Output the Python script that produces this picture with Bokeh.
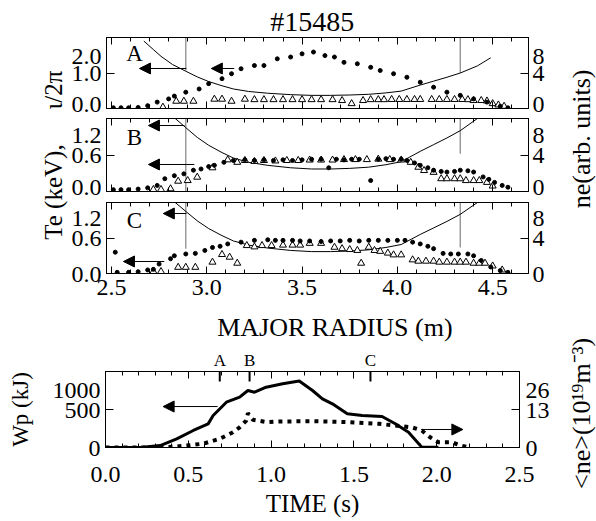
import math
from bokeh.plotting import figure
from bokeh.models import (Range1d, LinearAxis, FixedTicker, SingleIntervalTicker,
                          PrintfTickFormatter, Label, Arrow, NormalHead)
from bokeh.layouts import column, row
from bokeh.embed import file_html
from bokeh.resources import INLINE

# ---------------- data ----------------
iota_R = [2.67, 2.72, 2.76, 2.82, 2.89, 2.95, 3.01, 3.08, 3.14, 3.22, 3.32, 3.44,
          3.55, 3.65, 3.75, 3.85, 3.94, 4.02, 4.12, 4.19, 4.26, 4.33, 4.42, 4.49]
iota = [1.90, 1.66, 1.47, 1.24, 1.05, 0.89, 0.76, 0.64, 0.55, 0.48, 0.43, 0.39,
        0.37, 0.37, 0.38, 0.40, 0.44, 0.49, 0.66, 0.77, 0.88, 1.00, 1.20, 1.43]

A_te_R = [2.51, 2.55, 2.59, 2.64, 2.69, 2.74, 2.80, 2.83, 2.89, 2.96, 3.01, 3.08,
          3.13, 3.18, 3.25, 3.30, 3.37, 3.44, 3.50, 3.56, 3.62, 3.67, 3.72, 3.79,
          3.86, 3.91, 3.98, 4.05, 4.12, 4.19, 4.26, 4.33, 4.40, 4.47, 4.54, 4.58]
A_te = [0.02, 0.02, 0.02, 0.03, 0.08, 0.18, 0.27, 0.35, 0.46, 0.55, 0.70, 0.84,
        0.98, 1.12, 1.21, 1.21, 1.40, 1.45, 1.54, 1.59, 1.49, 1.45, 1.30, 1.26,
        1.16, 1.07, 0.98, 0.88, 0.74, 0.60, 0.46, 0.37, 0.27, 0.18, 0.06, 0.02]
A_ne_R = [2.77, 2.84, 2.88, 2.93, 3.04, 3.08, 3.13, 3.20, 3.25, 3.30, 3.35, 3.40,
          3.45, 3.50, 3.55, 3.60, 3.66, 3.71, 3.76, 3.82, 3.86, 3.90, 3.93, 3.97,
          4.01, 4.05, 4.09, 4.12, 4.18, 4.22, 4.26, 4.30, 4.34, 4.37, 4.40, 4.44,
          4.47, 4.50, 4.53, 4.56]
A_ne = [0.15, 0.82, 0.82, 0.82, 1.05, 1.05, 0.82, 1.05, 1.00, 1.00, 1.00, 1.00,
        1.00, 1.00, 1.00, 1.00, 1.00, 0.90, 0.55, 0.90, 1.00, 1.00, 1.00, 1.02,
        1.02, 1.02, 1.02, 1.02, 1.02, 1.02, 1.02, 1.02, 1.02, 1.00, 0.90, 0.90,
        0.85, 0.55, 0.40, 0.25]

B_te_R = [2.51, 2.55, 2.59, 2.64, 2.69, 2.74, 2.78, 2.83, 2.88, 2.93, 2.97, 3.01,
          3.04, 3.09, 3.14, 3.20, 3.25, 3.30, 3.35, 3.40, 3.45, 3.50, 3.55, 3.60,
          3.64, 3.68, 3.72, 3.76, 3.80, 3.86, 3.90, 3.94, 3.98, 4.02, 4.05, 4.09,
          4.12, 4.16, 4.19, 4.23, 4.26, 4.30, 4.33, 4.37, 4.40, 4.45, 4.48, 4.51,
          4.55, 4.58]
B_te = [0.03, 0.03, 0.03, 0.04, 0.06, 0.10, 0.21, 0.26, 0.29, 0.35, 0.37, 0.41,
        0.43, 0.48, 0.51, 0.52, 0.51, 0.52, 0.51, 0.52, 0.51, 0.52, 0.53, 0.53,
        0.39, 0.53, 0.52, 0.53, 0.53, 0.18, 0.53, 0.54, 0.53, 0.53, 0.51, 0.47,
        0.43, 0.39, 0.35, 0.33, 0.32, 0.33, 0.35, 0.34, 0.32, 0.24, 0.20, 0.15,
        0.10, 0.07]
B_ne_R = [2.72, 2.76, 2.81, 2.85, 2.90, 2.95, 3.03, 3.11, 3.16, 3.20, 3.25, 3.30,
          3.36, 3.42, 3.48, 3.54, 3.60, 3.66, 3.72, 3.78, 3.84, 3.90, 3.96, 4.02,
          4.07, 4.11, 4.14, 4.19, 4.23, 4.26, 4.30, 4.33, 4.36, 4.40, 4.43, 4.47,
          4.50]
B_ne = [0.22, 0.22, 0.30, 1.13, 1.20, 1.57, 2.60, 3.47, 3.20, 3.40, 3.30, 3.40,
        3.35, 3.40, 3.40, 3.45, 3.45, 3.45, 3.50, 3.50, 3.50, 3.55, 3.50, 3.45,
        3.20, 2.66, 2.30, 2.10, 1.40, 1.40, 1.40, 1.40, 1.20, 1.20, 1.20, 1.00,
        0.60]

C_te_R = [2.52, 2.53, 2.59, 2.64, 2.69, 2.72, 2.75, 2.81, 2.83, 2.89, 2.94, 2.99,
          3.03, 3.07, 3.11, 3.18, 3.25, 3.32, 3.36, 3.40, 3.45, 3.49, 3.54, 3.60,
          3.65, 3.70, 3.75, 3.80, 3.85, 3.90, 3.95, 4.00, 4.04, 4.08, 4.12, 4.16,
          4.19, 4.24, 4.28, 4.32, 4.37, 4.40, 4.44, 4.49, 4.54, 4.58]
C_te = [0.36, 0.02, 0.02, 0.03, 0.06, 0.07, 0.16, 0.25, 0.30, 0.33, 0.34, 0.39,
        0.44, 0.46, 0.50, 0.53, 0.56, 0.57, 0.56, 0.56, 0.56, 0.55, 0.55, 0.54,
        0.55, 0.55, 0.56, 0.55, 0.56, 0.56, 0.56, 0.56, 0.56, 0.53, 0.50, 0.46,
        0.42, 0.34, 0.33, 0.33, 0.33, 0.30, 0.22, 0.11, 0.05, 0.02]
C_ne_R = [2.72, 2.76, 2.85, 2.89, 2.94, 3.03, 3.08, 3.12, 3.16, 3.21, 3.25, 3.29,
          3.34, 3.40, 3.45, 3.49, 3.54, 3.60, 3.67, 3.71, 3.75, 3.79, 3.81, 3.85,
          3.88, 3.91, 3.95, 3.98, 4.02, 4.08, 4.11, 4.15, 4.19, 4.22, 4.26, 4.30,
          4.33, 4.36, 4.40, 4.43, 4.46, 4.50, 4.55]
C_ne = [0.22, 0.22, 0.70, 0.70, 0.70, 1.28, 2.14, 1.84, 1.16, 3.15, 3.00, 3.15,
        3.15, 3.20, 3.20, 3.20, 3.40, 3.40, 2.96, 2.80, 2.70, 2.60, 1.16, 2.96,
        2.60, 2.50, 2.30, 2.10, 2.10, 1.54, 1.39, 1.39, 1.39, 1.28, 1.28, 1.28,
        1.28, 1.28, 1.16, 1.16, 1.16, 0.85, 0.40]

mark_R = [2.89, 4.33]
A_mark_low = [1.07, 1.00]
B_mark_low = [0.00, 0.62]
C_mark_low = [0.42, 0.44]

t_wp = [0.00, 0.10, 0.21, 0.33, 0.43, 0.53, 0.62, 0.65, 0.73, 0.81, 0.86, 0.90,
        0.97, 1.07, 1.17, 1.25, 1.31, 1.37, 1.46, 1.55, 1.67, 1.75, 1.83, 1.91, 2.01]
wp = [0, 0, 0, 26, 114, 224, 311, 421, 596, 662, 750, 728,
      793, 838, 875, 750, 640, 575, 443, 421, 408, 312, 201, 4, 4]
t_ne = [0.00, 0.10, 0.20, 0.33, 0.43, 0.59, 0.69, 0.77, 0.81, 0.85, 0.86, 0.89,
        0.97, 1.05, 1.25, 1.45, 1.65, 1.75, 1.85, 1.91, 1.96, 2.01, 2.09, 2.15, 2.20]
ne_avg = [0, 0, 0, 0, 0.3, 1.3, 3.0, 5.2, 6.9, 9.2, 11.7, 9.5,
          8.7, 8.9, 9.0, 8.7, 8.1, 7.5, 6.9, 5.8, 3.5, 1.8, 1.8, 0.6, 0]

snap_t = [0.69, 0.87, 1.60]
snap_lbl = ["A", "B", "C"]

A_left_ticks = [0.0, 1.0, 2.0]
BC_left_ticks = [0.0, 0.6, 1.2]
ne_ticks = [0, 4, 8]
wp_ticks = [0, 500, 1000]
nebar_ticks = [0, 13, 26]

# ---------------- styling ----------------
FONT = "Liberation Serif"
TICK = "24px"
R_LO, R_HI = 2.474, 4.688
PW = 492


def style_axis(ax):
    ax.axis_line_color = "black"
    ax.major_tick_line_color = "black"
    ax.minor_tick_line_color = "black"
    ax.major_tick_out = 0
    ax.minor_tick_out = 0
    ax.major_label_text_font = FONT
    ax.major_label_text_font_size = TICK
    ax.major_label_text_color = "black"
    ax.axis_label_text_font = FONT
    ax.axis_label_text_font_style = "normal"
    ax.axis_label_text_color = "black"


def no_grid(p):
    p.grid.visible = False


def add_x_axes(p, labelled, standoff=6):
    below = None
    for side in ("below", "above"):
        ax = LinearAxis(ticker=SingleIntervalTicker(interval=0.5, num_minor_ticks=5),
                        formatter=PrintfTickFormatter(format="%.1f"))
        style_axis(ax)
        ax.major_tick_in = 7
        ax.minor_tick_in = 4
        if side == "below" and labelled:
            ax.major_label_standoff = standoff
            below = ax
        else:
            ax.major_label_text_font_size = "0px"
            ax.major_label_text_alpha = 0
            ax.major_label_standoff = 0
        p.add_layout(ax, side)
    return below


def add_y_axis(p, side, ticks, fmt, range_name="default", standoff=5):
    ax = LinearAxis(y_range_name=range_name,
                    ticker=FixedTicker(ticks=ticks, minor_ticks=[]),
                    formatter=PrintfTickFormatter(format=fmt))
    style_axis(ax)
    # the top label sits a little below its tick, as in the original figure
    top = float(max(ticks))
    ax.major_label_overrides = {top: "\n" + (fmt % top)}
    if hasattr(ax, "major_label_text_line_height"):
        ax.major_label_text_line_height = 0.2
    ax.major_tick_in = 8
    ax.minor_tick_in = 0
    ax.major_label_standoff = standoff
    p.add_layout(ax, side)
    return ax


def arrow(p, xs, ys, xe, ye, range_name="default"):
    p.add_layout(Arrow(end=NormalHead(size=11, fill_color="black", line_color="black", line_width=1),
                       x_start=xs, y_start=ys, x_end=xe, y_end=ye,
                       line_color="black", line_width=1, y_range_name=range_name))


def label(p, x, y, text, size, angle=0.0):
    p.add_layout(Label(x=x, y=y, text=text, text_font=FONT, text_font_size=size,
                       angle=angle, text_align="center", text_baseline="middle",
                       text_color="black"))


def radial_panel(h, top, bottom, y_max, left_ticks, te_R, te, ne_R, ne, mark_low,
                 letter, letter_y, arrows, labelled):
    p = figure(width=PW, height=h, x_range=Range1d(R_LO, R_HI), y_range=Range1d(0, y_max),
               x_axis_location=None, y_axis_location=None, output_backend="svg",
               toolbar_location=None, min_border_left=37, min_border_right=32,
               min_border_top=top, min_border_bottom=bottom)
    no_grid(p)
    p.extra_y_ranges = {"ne": Range1d(0, 8)}
    p.outline_line_color = "black"
    add_y_axis(p, "left", left_ticks, "%.1f")
    add_y_axis(p, "right", ne_ticks, "%d", range_name="ne", standoff=4)
    add_x_axes(p, labelled)
    p.segment(x0=mark_R, y0=[y_max] * len(mark_R), x1=mark_R, y1=mark_low,
              line_color="#8c8c8c", line_width=1.3)
    p.line(iota_R, iota, line_color="black", line_width=1)
    p.scatter(ne_R, ne, marker="triangle", size=7, line_color="black", fill_color="white",
              line_width=1, y_range_name="ne")
    p.scatter(te_R, te, marker="circle", size=4, color="black")
    for a in arrows:
        arrow(p, *a)
    label(p, 2.621, letter_y, letter, "23px")
    return p


def strip(width, height, **kw):
    s = figure(width=width, height=height, x_axis_location=None, y_axis_location=None,
               output_backend="svg", toolbar_location=None, **kw)
    no_grid(s)
    s.outline_line_color = None
    return s


# title strip (page y 0..37)
pT = strip(596, 37, x_range=Range1d(0, 1), y_range=Range1d(0, 1), min_border=0)
label(pT, 0.523, 0.42, "#15485", "28px")

# radial panels (page y 37..314)
pA = radial_panel(79, 0, 8, 2.0, A_left_ticks, A_te_R, A_te, A_ne_R, A_ne, A_mark_low,
                  "A", 1.549, [(2.893, 1.127, 2.647, 1.127), (3.144, 1.127, 3.024, 1.127)], False)
pB = radial_panel(83, 2, 8, 1.2, BC_left_ticks, B_te_R, B_te, B_ne_R, B_ne, B_mark_low,
                  "B", 0.888, [(2.883, 1.085, 2.694, 1.085), (2.935, 0.444, 2.694, 0.444)], False)
pC = radial_panel(115, 3, 41, 1.2, BC_left_ticks, C_te_R, C_te, C_ne_R, C_ne, C_mark_low,
                  "C", 0.896, [(2.893, 1.014, 2.772, 1.014), (2.777, 0.203, 2.563, 0.203)], True)

ROW_H = 79 + 83 + 115
pL = strip(68, ROW_H, x_range=Range1d(0, 1), y_range=Range1d(0, 1), min_border=0)
label(pL, 0.78, 0.442, "Te (keV),", "25px", angle=math.pi / 2)
label(pL, 0.78, 0.810, "\u03b9/2\u03c0", "25px", angle=math.pi / 2)
pR = strip(36, ROW_H, x_range=Range1d(0, 1), y_range=Range1d(0, 1), min_border=0)
label(pR, 0.57, 0.634, "ne(arb. units)", "26px", angle=math.pi / 2)

# middle strip (page y 314..371), shares the time axis mapping
t_range = Range1d(0, 2.5)
pM = strip(552, 57, x_range=t_range, y_range=Range1d(0, 1), min_border_left=105,
           min_border_right=30, min_border_top=0, min_border_bottom=0)
label(pM, 1.385, 0.77, "MAJOR RADIUS (m)", "26px")
for t, s in zip(snap_t, snap_lbl):
    label(pM, t, 0.19, s, "17px")

# time panel (page y 371..521)
pD = figure(width=552, height=150, x_range=t_range, y_range=Range1d(0, 1000),
            x_axis_location=None, y_axis_location=None, output_backend="svg",
            toolbar_location=None, min_border_left=105, min_border_right=30,
            min_border_top=0, min_border_bottom=74)
no_grid(pD)
pD.extra_y_ranges = {"ne": Range1d(0, 26)}
pD.outline_line_color = "black"
la = add_y_axis(pD, "left", wp_ticks, "%d")
la.axis_label = "Wp (kJ)"
la.axis_label_text_font_size = "23px"
la.axis_label_standoff = 17
add_y_axis(pD, "right", nebar_ticks, "%d", range_name="ne", standoff=6)
bx = add_x_axes(pD, True, standoff=19)
bx.axis_label = "TIME (s)"
bx.axis_label_text_font_size = "25px"
bx.axis_label_standoff = 5

pD.line(t_wp, wp, line_color="black", line_width=3)
pD.line(t_ne, ne_avg, line_color="black", line_width=4, line_dash="4 5", line_cap="butt",
        y_range_name="ne")
pD.segment(x0=snap_t, y0=[1000] * len(snap_t), x1=snap_t, y1=[868] * len(snap_t),
           line_color="black", line_width=2)
arrow(pD, 0.677, 539, 0.348, 539)
arrow(pD, 1.906, 6.16, 2.158, 6.16, "ne")

# right strip for the <ne> label (page y 314..521)
pR2 = strip(44, 57 + 150, x_range=Range1d(0, 1), y_range=Range1d(0, 1), min_border=0)
label(pR2, 0.655, 0.522, "<ne>(10\u00b9\u2079m\u207b\u00b3)", "26px", angle=math.pi / 2)

layout = column(pT,
                row(pL, column(pA, pB, pC), pR),
                row(column(pM, pD), pR2))
open("out.html", "w").write(file_html(layout, INLINE))
